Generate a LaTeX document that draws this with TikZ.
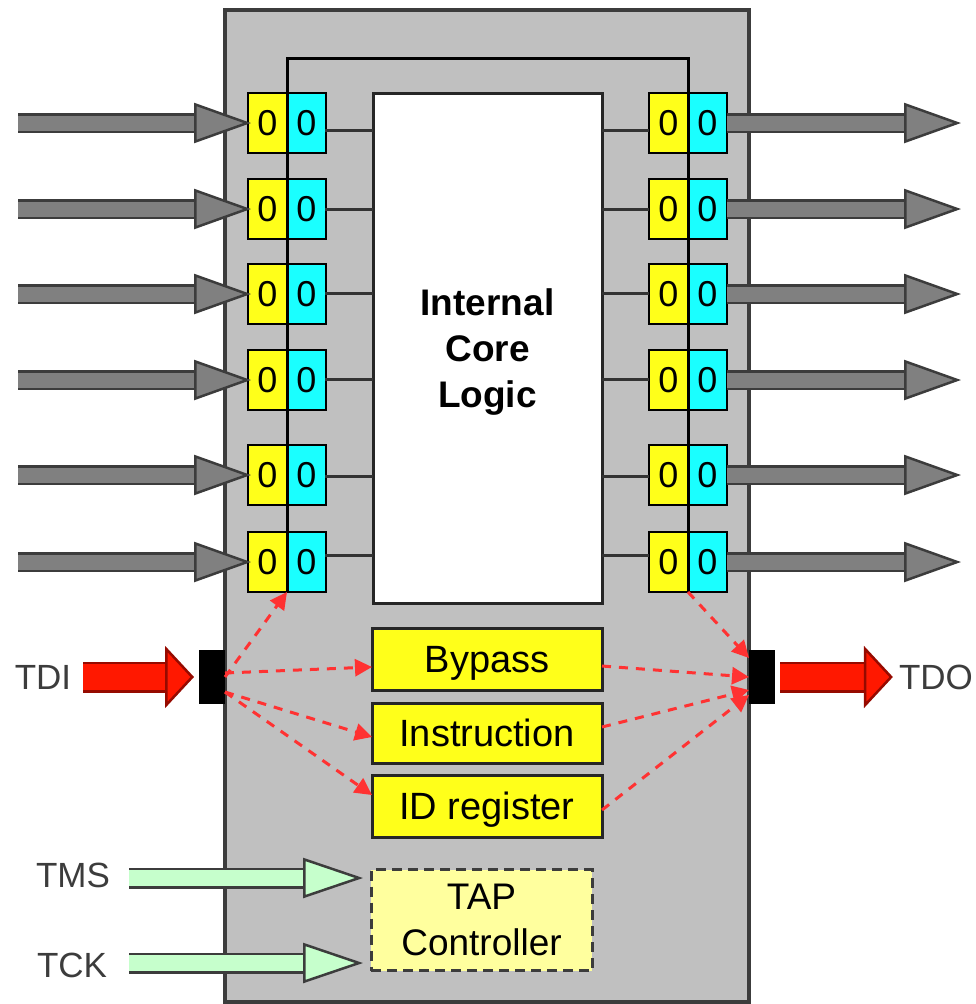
\documentclass[tikz,border=0pt]{standalone}
\usepackage{fontspec}
\setmainfont{Liberation Sans}
\usepackage{xcolor}
\definecolor{ChipGray}{RGB}{192,192,192}
\definecolor{EdgeGray}{RGB}{60,60,60}
\definecolor{BusGray}{RGB}{128,128,128}
\definecolor{CellYellow}{RGB}{255,255,26}
\definecolor{CellCyan}{RGB}{26,255,255}
\definecolor{TapYellow}{RGB}{255,255,158}
\definecolor{PortRed}{RGB}{255,24,0}
\definecolor{PortEdge}{RGB}{150,10,0}
\definecolor{CtrlGreen}{RGB}{198,255,204}
\definecolor{ScanRed}{RGB}{255,50,50}
\usetikzlibrary{arrows.meta}
\usetikzlibrary{positioning}
\tikzstyle{cellA} = [draw=black, line width=2.5pt, fill=CellYellow, minimum width=39pt, minimum height=60pt, inner sep=0pt, outer sep=0pt, font=\fontsize{36}{36}\selectfont]
\tikzstyle{cellB} = [cellA, fill=CellCyan]
\tikzstyle{regbox} = [draw=black!85, line width=3pt, fill=CellYellow, minimum width=230pt, inner sep=0pt, outer sep=0pt, text height=26pt, text depth=0pt, font=\fontsize{38}{38}\selectfont]
\tikzstyle{port} = [fill=black, minimum width=26pt, minimum height=54pt, inner sep=0pt, outer sep=0pt]
\tikzstyle{pinlabel} = [inner sep=0pt, text=EdgeGray, font=\fontsize{35}{35}\selectfont]
\tikzstyle{stub} = [line width=3pt, black!80]
\tikzstyle{busarrow} = [draw=EdgeGray, line width=2.5pt, double=BusGray, double distance=15pt, -{Triangle[length=57pt, width=40pt, line width=2.5pt, fill=BusGray]}]
\tikzstyle{redarrow} = [draw=PortEdge, line width=2.5pt, double=PortRed, double distance=26pt, -{Triangle[length=29pt, width=62pt, line width=2.5pt, fill=PortRed]}]
\tikzstyle{ctrlarrow} = [draw=EdgeGray, line width=2.5pt, double=CtrlGreen, double distance=16pt, -{Triangle[length=60pt, width=40pt, line width=2.5pt, fill=CtrlGreen]}]
\tikzstyle{scan} = [ScanRed, line width=3pt, dash pattern=on 9pt off 8pt, -{Triangle[length=17pt, width=17pt]}]

\begin{document}
\begin{tikzpicture}[x=1pt, y=-1pt]
    \useasboundingbox (0,0) rectangle (976,1004);
    % chip outline and scan loop
    \node[draw=EdgeGray, line width=3.5pt, fill=ChipGray, minimum width=524pt, minimum height=992pt, inner sep=0pt] (chip) at (487,506) {};
    \coordinate (looptop) at (487,58);
    \node[draw=black!85, line width=3pt, fill=white, minimum width=229pt, minimum height=510pt, align=center, inner sep=0pt, outer sep=0pt, font=\fontsize{37}{46}\selectfont\bfseries] (core) at (487.5,348) {\rule{0pt}{34pt}Internal\\Core\\Logic};
    % boundary cells, one row on each side of the core
    \foreach \row/\ypos/\stuby in {1/123/130, 2/209/209, 3/294/293, 4/380/379, 5/475/476, 6/562/555} {
        \node[cellA] (inA\row) at (267.5,\ypos) {0};
        \node[cellB, right=0pt of inA\row] (inB\row) {0};
        \node[cellA] (outA\row) at (668.5,\ypos) {0};
        \node[cellB, right=0pt of outA\row] (outB\row) {0};
        \coordinate (inStub\row) at (325,\stuby);
        \coordinate (outStub\row) at (649,\stuby);
        \draw[stub] (inStub\row) -- (core.west |- inStub\row);
        \draw[stub] (core.east |- outStub\row) -- (outStub\row);
        \coordinate (busIn\row) at (18,\ypos);
        \coordinate (busOut\row) at (958,\ypos);
        \draw[busarrow, shorten >=-3pt] (busIn\row) -- (inA\row.west);
        \draw[busarrow, shorten >=-3pt] (outB\row.east) -- (busOut\row);
    }
    \draw[line width=3pt, black] (inA6.south east) -- (inA6.south east |- looptop) -| (outA6.south east);
    % registers and TAP
    \node[regbox, minimum height=62pt] (bypass) at (487,659) {Bypass};
    \node[regbox, minimum height=60pt] (instr) at (487,733) {Instruction};
    \node[regbox, minimum height=62pt] (idreg) at (487,806) {ID register};
    \node[draw=EdgeGray, dash pattern=on 10pt off 6pt, line width=3pt, fill=TapYellow, minimum width=221pt, minimum height=101pt, align=center, inner sep=0pt, outer sep=0pt, font=\fontsize{37}{46}\selectfont] (tap) at (481.5,920) {TAP\\Controller};
    % pins
    \node[port] (tdiport) at (212,677) {};
    \node[port] (tdoport) at (762,677) {};
    \node[pinlabel] (tdi) at (43,677) {TDI};
    \node[pinlabel] (tdo) at (936,677) {TDO};
    \node[pinlabel] (tms) at (73,875) {TMS};
    \node[pinlabel] (tck) at (72,965) {TCK};
    \draw[redarrow, shorten <=12pt, shorten >=5pt] (tdi.east) -- (tdiport.west);
    \draw[redarrow, shorten <=5pt, shorten >=6pt] (tdoport.east) -- (tdo.west);
    \coordinate (tmsin) at (129,878);
    \coordinate (tckin) at (129,963);
    \draw[ctrlarrow, shorten >=8pt] (tmsin) -- (tap.west |- tmsin);
    \draw[ctrlarrow, shorten >=8pt] (tckin) -- (tap.west |- tckin);
    % scan paths
    \draw[scan] (tdiport.east) -- (inA6.south east);
    \draw[scan] ([yshift=4pt]tdiport.east) -- ([yshift=-8pt]bypass.west);
    \draw[scan] ([yshift=-15pt]tdiport.east) -- ([yshift=-4pt]instr.west);
    \draw[scan] ([yshift=-15pt]tdiport.east) -- ([yshift=11pt]idreg.west);
    \draw[scan] (outA6.south east) -- ([yshift=19pt]tdoport.west);
    \draw[scan] ([yshift=-7pt]bypass.east) -- (tdoport.west);
    \draw[scan] ([yshift=6pt]instr.east) -- ([yshift=-13pt]tdoport.west);
    \draw[scan] ([yshift=-4pt]idreg.east) -- ([yshift=-18pt]tdoport.west);
\end{tikzpicture}
\end{document}
